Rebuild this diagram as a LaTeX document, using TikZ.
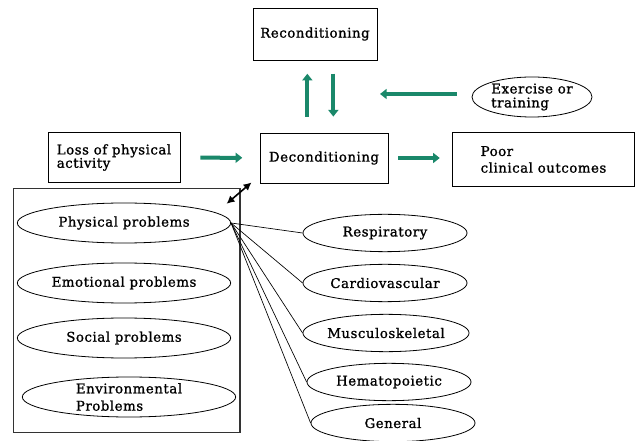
\documentclass[tikz,border=0pt]{standalone}
\usepackage{fontspec}
\setmainfont{DejaVu Serif}[LetterSpace=4,FakeBold=1.2]
\usetikzlibrary{arrows.meta,shapes.geometric,positioning}
\definecolor{arrowgreen}{RGB}{26,136,106}

\begin{document}
\begin{tikzpicture}[x=0.75pt,y=-0.75pt]
\tikzstyle{every node}+=[inner sep=0pt,font=\fontsize{10}{12}\selectfont]
\tikzstyle{box}=[draw,rectangle,line width=0.6pt]
\tikzstyle{oval}=[draw,ellipse,line width=0.6pt]
\tikzstyle{leftoval}=[oval,minimum width=160pt,minimum height=30pt]
\tikzstyle{rightoval}=[oval,minimum width=123pt,minimum height=28pt]
\tikzstyle{greenarrow}=[arrowgreen,line width=3pt,-{Triangle[length=5pt,width=7.5pt]}]
\useasboundingbox (0,0) rectangle (638,441);
\node [box,minimum width=93pt,minimum height=39pt] (recond) at (315,34) {Reconditioning};
\node [box,minimum width=96pt,minimum height=37.5pt] (decond) at (324,158) {Deconditioning};
\node [box,minimum width=99pt,minimum height=38pt,align=left,font=\fontsize{10}{10}\selectfont] (loss) at (114,157.5) {Loss of physical\\activity};
\node [box,minimum width=137pt,minimum height=41pt,align=left,font=\fontsize{10}{12.5}\selectfont] (poor) at (543.5,159.5) {Poor\\clinical outcomes};
\node [oval,minimum width=90pt,minimum height=30pt,align=left,font=\fontsize{10}{10.5}\selectfont] (exercise) at (532,97) {Exercise or\\training};
\coordinate (exin) at (380,94);
\node [draw=black!80,line width=1pt,minimum width=170pt,minimum height=183pt] (group) at (126.5,310.5) {};
\node [leftoval] (phys) at (124,223) {Physical problems};
\node [leftoval] (emot) at (124,283) {Emotional problems};
\node [leftoval] (soc) at (124,338) {Social problems};
\node [leftoval,align=left,font=\fontsize{10}{13}\selectfont] (env) at (129,397) {Environmental\\Problems};
\node [rightoval] (resp) at (385,233) {Respiratory};
\node [rightoval] (cardio) at (385,283) {Cardiovascular};
\node [rightoval] (musc) at (386,333) {Musculoskeletal};
\node [rightoval] (hemat) at (389,382) {Hematopoietic};
\node [rightoval] (gen) at (393,423) {General};
\draw [greenarrow,shorten <=15pt,shorten >=13pt] (loss) -- (decond);
\draw [greenarrow,shorten <=7.5pt,shorten >=9pt] (decond.east) -- (decond.east -| poor.west);
\draw [greenarrow,shorten <=12pt,shorten >=10pt] ([xshift=-12.5pt]decond.north) -- ([xshift=-12.5pt]decond.north |- recond.south);
\draw [greenarrow,shorten <=10pt,shorten >=12pt] ([xshift=7pt]decond.north |- recond.south) -- ([xshift=7pt]decond.north);
\draw [greenarrow,shorten <=11pt] (exercise.west |- exin) -- (exin);
\draw [line width=1.2pt,{Latex[length=6pt,width=6pt]}-{Latex[length=6pt,width=6pt]}] ([shift={(-14,16)}]group.north east) -- ([shift={(-8,-1)}]decond.south west);
\foreach \n in {resp,cardio,musc,hemat,gen}
  \draw [line width=0.5pt] (phys.east) -- (\n.west);
\end{tikzpicture}
\end{document}
